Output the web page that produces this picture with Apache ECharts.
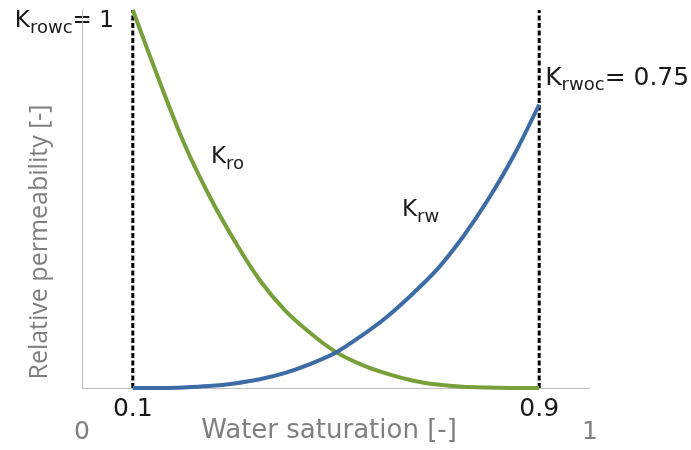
<!DOCTYPE html>
<html><head><meta charset="utf-8">
<script src="https://cdn.jsdelivr.net/npm/echarts@6/dist/echarts.min.js"></script>
<style>html,body{margin:0;padding:0;background:#fff}#c{width:691px;height:450px}</style>
</head><body><div id="c"></div>
<script>
// Water saturation values
const sw  = [0.10,0.15,0.20,0.25,0.30,0.35,0.40,0.45,0.50,0.55,0.60,0.65,0.70,0.75,0.80,0.85,0.90];
// Oil relative permeability
const kro = [1.00,0.82,0.65,0.51,0.39,0.285,0.205,0.145,0.095,0.062,0.038,0.020,0.009,0.003,0.001,0.0,0.0];
// Water relative permeability
const krw = [0.0,0.0002,0.0015,0.005,0.012,0.023,0.040,0.064,0.094,0.138,0.188,0.248,0.315,0.400,0.500,0.615,0.75];
// Saturation end points (dashed lines)
const swc = 0.1;
const swMaxW = 0.9;
const krowc = 1;
const krwoc = 0.75;
// Tick labels
const innerTicks = [0.1, 0.9];
const outerTicks = [0, 1];

const FONT = 'DejaVu Sans';
const VFONT = 'Open Sans';
const GRAY = '#7f7f7f';
const near = (a, list) => list.some(t => Math.abs(a - t) < 1e-6);

const chart = echarts.init(document.getElementById('c'), null, {renderer: 'canvas'});
chart.setOption({
  animation: false,
  backgroundColor: '#fff',
  grid: {left: 82, right: 101, top: 10, bottom: 62, containLabel: false, outerBoundsMode: 'none'},
  xAxis: [{
    type: 'value', min: 0, max: 1, interval: 0.1,
    axisLine: {show: true, lineStyle: {color: '#bfbfbf', width: 1}},
    axisTick: {show: false}, splitLine: {show: false},
    axisLabel: {
      margin: 9, fontFamily: FONT, fontSize: 25, color: '#1a1a1a',
      formatter: v => near(v, innerTicks) ? String(v) : ''
    },
    name: 'Water saturation [-]', nameLocation: 'middle', nameGap: 30, nameMoveOverlap: false,
    nameTextStyle: {fontFamily: FONT, fontSize: 26, color: GRAY, padding: [0, 14, 0, 0]}
  }, {
    type: 'value', min: 0, max: 1, interval: 0.1, position: 'bottom', offset: 0,
    axisLine: {show: false}, axisTick: {show: false}, splitLine: {show: false},
    axisLabel: {
      margin: 32, fontFamily: FONT, fontSize: 25, color: GRAY,
      formatter: v => near(v, outerTicks) ? String(v) : ''
    }
  }],
  yAxis: [{
    type: 'value', min: 0, max: 1,
    axisLine: {show: true, lineStyle: {color: '#bfbfbf', width: 1}},
    axisTick: {show: false}, splitLine: {show: false}, axisLabel: {show: false}
  }, {
    type: 'value', min: 0, max: 1, position: 'right',
    axisLine: {show: true, lineStyle: {color: '#bfbfbf', width: 1}},
    axisTick: {show: false}, splitLine: {show: false}, axisLabel: {show: false}
  }],
  series: [
    {type: 'line', name: 'Swc', data: [[swc, 0], [swc, krowc]], symbol: 'none',
     lineStyle: {color: '#000', width: 3, type: [5, 2.5]}, z: 3},
    {type: 'line', name: 'Sw max', data: [[swMaxW, 0], [swMaxW, 1]], symbol: 'none',
     lineStyle: {color: '#000', width: 3, type: [5, 2.5]}, z: 3},
    {type: 'line', name: 'Kro', data: sw.map((s, i) => [s, kro[i]]), symbol: 'none',
     smooth: 0.3,
     lineStyle: {color: '#77a03a', width: 4, join: 'round'}, z: 4},
    {type: 'line', name: 'Krw', data: sw.map((s, i) => [s, krw[i]]), symbol: 'none',
     smooth: 0.3,
     lineStyle: {color: '#3d6ba5', width: 4, join: 'round'}, z: 4}
  ]
});

const px = (x, y) => chart.convertToPixel({gridIndex: 0}, [x, y]);
const pTop = px(swc, krowc);
const pW = px(swMaxW, krwoc);
const pRo = px(0.25, 0.61);
const pRw = px(0.63, 0.47);

const kStyle = (size, sub) => ({
  k: {fontFamily: FONT, fontSize: size, fill: '#1a1a1a', lineHeight: size + 6},
  s: {fontFamily: FONT, fontSize: sub, fill: '#1a1a1a', lineHeight: size + 6, padding: [14, 0, 0, 0]}
});

chart.setOption({
  graphic: [
    {type: 'text', x: 40, y: 242, rotation: Math.PI / 2,
     style: {text: 'Relative permeability [-]', fontFamily: VFONT, fontSize: 25, fill: GRAY, align: 'center', verticalAlign: 'middle'}},
    {type: 'text', x: pTop[0] - 19, y: pTop[1] + 11,
     style: {text: '{k|K}{s|rowc}{k|= 1}', rich: kStyle(23, 18), align: 'right', verticalAlign: 'middle'}},
    {type: 'text', x: pW[0] + 6, y: pW[1] - 26,
     style: {text: '{k|K}{s|rwoc}{k|= 0.75}', rich: kStyle(25, 18), align: 'left', verticalAlign: 'middle'}},
    {type: 'text', x: pRo[0] + 2, y: pRo[1],
     style: {text: '{k|K}{s|ro}', rich: kStyle(23, 18), align: 'left', verticalAlign: 'middle'}},
    {type: 'text', x: pRw[0], y: pRw[1],
     style: {text: '{k|K}{s|rw}', rich: kStyle(23, 18), align: 'left', verticalAlign: 'middle'}}
  ]
});
</script>
</body></html>
